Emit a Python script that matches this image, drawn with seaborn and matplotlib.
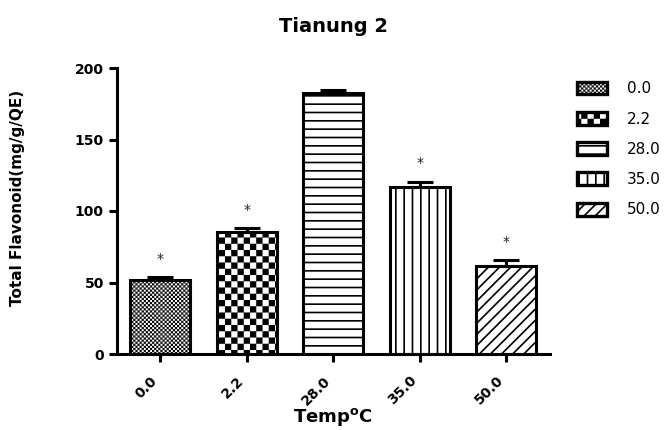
import warnings
warnings.filterwarnings("ignore")
import numpy as np
import pandas as pd
import matplotlib
matplotlib.use("Agg")
import matplotlib.pyplot as plt
import matplotlib.hatch as mhatch
from matplotlib.path import Path
from matplotlib.patches import Patch
import seaborn as sns

# ---------------- data ----------------
temps = ['0.0', '2.2', '28.0', '35.0', '50.0']
flavonoid = [51.6, 85.2, 182.4, 116.6, 61.7]
sem = [2.1, 2.8, 1.9, 4.0, 4.2]
significance = ['*', '*', '', '*', '*']
hatches = ['c' * 12, 'cccc', '--', '||', '///']


# ---------------- custom checkerboard hatch ----------------
class CheckerHatch(mhatch.HatchPatternBase):
    def __init__(self, hatch, density):
        self.n = hatch.count('c') * 4
        self.num_vertices = (self.n * self.n // 2) * 5 if self.n else 0

    def set_vertices_and_codes(self, vertices, codes):
        n = self.n
        s = 1.0 / n
        inset = 0.008
        k = 0
        for i in range(n):
            for j in range(n):
                if (i + j) % 2 == 0:
                    x0, y0 = i * s + inset, j * s + inset
                    x1, y1 = (i + 1) * s - inset, (j + 1) * s - inset
                    vertices[k:k + 5] = [[x0, y0], [x1, y0], [x1, y1], [x0, y1], [x0, y0]]
                    codes[k:k + 5] = [Path.MOVETO, Path.LINETO, Path.LINETO,
                                      Path.LINETO, Path.CLOSEPOLY]
                    k += 5


mhatch._hatch_types.append(CheckerHatch)

# ---------------- style ----------------
sns.set_theme(style='ticks')
plt.rcParams['font.family'] = ['DejaVu Sans']
plt.rcParams['hatch.linewidth'] = 1.2
plt.rcParams['hatch.color'] = 'black'
plt.rcParams['text.color'] = 'black'

df = pd.DataFrame({'Temp': temps, 'Flavonoid': flavonoid})

fig = plt.figure(figsize=(6.72, 4.30), dpi=100)
ax = fig.add_axes([117 / 672, 1 - 354 / 430, 432.5 / 672, 286 / 430])

sns.barplot(data=df, x='Temp', y='Flavonoid', hue='Temp', order=temps,
            hue_order=temps, palette=['white'] * len(temps), saturation=1,
            width=0.69, edgecolor='black', linewidth=2.2, errorbar=None,
            legend=False, ax=ax)

bars = [c.patches[0] for c in ax.containers]
for bar, h in zip(bars, hatches):
    bar.set_hatch(h)
    bar.set_edgecolor('black')

xpos = np.arange(len(temps))
ax.errorbar(xpos, flavonoid, yerr=[np.zeros(len(sem)), sem], fmt='none',
            ecolor='black', elinewidth=2.2, capsize=9.5, capthick=2.2, zorder=5)

for i, (v, e, s) in enumerate(zip(flavonoid, sem, significance)):
    if s:
        ax.annotate(s, xy=(i, v + e), xytext=(0, 13), textcoords='offset points',
                    ha='center', va='center', fontsize=10, color='#222222')

ax.set_xlim(-0.5, len(temps) - 0.5)
ax.set_ylim(0, 200)
ax.set_yticks([0, 50, 100, 150, 200])
ax.set_yticklabels(['0', '50', '100', '150', '200'], fontweight='bold', fontsize=10)
ax.set_xticks(xpos)
ax.set_xticklabels(temps, rotation=45, ha='right', fontweight='bold', fontsize=10)

for side in ['top', 'right']:
    ax.spines[side].set_visible(False)
for side in ['left', 'bottom']:
    ax.spines[side].set_linewidth(2.2)
    ax.spines[side].set_color('black')
ax.tick_params(axis='both', direction='out', length=6, width=2.2, color='black',
               labelcolor='black')
ax.tick_params(axis='y', pad=3.5)
ax.tick_params(axis='x', pad=8)

ax.set_title('Tianung 2', fontsize=14, fontweight='bold', pad=26, color='black')
ax.set_ylabel('Total Flavonoid(mg/g/QE)', fontsize=11, fontweight='bold', color='black')
ax.yaxis.set_label_coords(-0.213, 0.545)
ax.set_xlabel(r'Temp$^{\mathbf{o}}$C', fontsize=13, fontweight='bold', color='black')
ax.xaxis.set_label_coords(0.5, -0.183)

handles = [Patch(facecolor='white', edgecolor='black', hatch=h, linewidth=2.4)
           for h in hatches]
fig.legend(handles, temps, loc='upper left', bbox_to_anchor=(577 / 672, 0.811),
           frameon=False, fontsize=11, handlelength=1.96, handleheight=0.92,
           labelspacing=1.0, handletextpad=1.3, borderpad=0, borderaxespad=0,
           labelcolor='black')

fig.savefig('out.png', dpi=100)
